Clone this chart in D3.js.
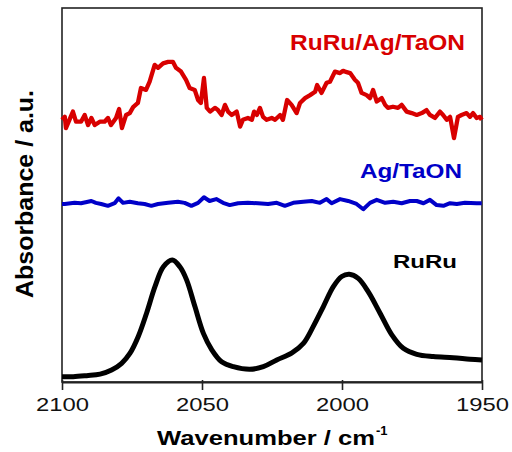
<html>
<head>
    <style>
        body { margin: 0; background: #fff; }
        text { font-family: Arial, "Liberation Sans", Helvetica, sans-serif; font-weight: bold; }
    </style>
</head>
<body>
    <svg id="chart"></svg>
</body>
<script src="https://cdn.jsdelivr.net/npm/d3@7"></script>
<script>
    // wavenumber (cm-1) and absorbance (a.u., offset per trace)
    let xTicks = [2100, 2050, 2000, 1950]

    let ruruAgWn = [2100, 2099.0, 2098.6, 2096.1, 2095.0, 2093.2, 2091.9, 2090.7, 2089.5, 2088.3, 2086.5, 2084.8, 2083.6, 2082.5, 2080.7, 2079.6, 2078.6, 2077.1, 2075.8, 2074.6, 2072.9, 2071.8, 2070.0, 2068.7, 2066.9, 2065.7, 2063.9, 2062.1, 2060.4, 2059.3, 2057.5, 2055.7, 2054.4, 2052.6, 2051.4, 2050.4, 2049.3, 2048.3, 2047.1, 2045.4, 2044.3, 2043.0, 2041.8, 2040.7, 2039.4, 2037.6, 2036.4, 2035.4, 2033.6, 2032.2, 2031.4, 2030.4, 2029.3, 2028.2, 2026.9, 2025.1, 2023.9, 2022.1, 2021.1, 2019.6, 2018.0, 2016.2, 2015.0, 2013.2, 2011.4, 2009.6, 2008.9, 2007.3, 2005.5, 2004.3, 2002.5, 2000.7, 1999.6, 1998.9, 1997.1, 1995.4, 1994.3, 1993.0, 1991.2, 1990.0, 1988.9, 1987.6, 1985.8, 1984.6, 1983.6, 1981.8, 1980.0, 1978.7, 1976.9, 1975.1, 1973.3, 1971.5, 1969.8, 1968.6, 1966.8, 1965.0, 1963.9, 1962.6, 1961.4, 1960.0, 1958.6, 1957.3, 1955.5, 1954.3, 1953.2, 1951.9, 1950.7, 1950.1]
    let ruruAgAbs = [7.01, 7.09, 6.79, 7.23, 6.96, 6.96, 7.14, 6.87, 7.06, 6.87, 6.96, 6.96, 7.06, 6.87, 7.06, 7.30, 6.79, 7.14, 7.19, 7.35, 7.46, 7.86, 7.81, 8.03, 8.48, 8.40, 8.52, 8.56, 8.56, 8.40, 8.30, 8.08, 7.86, 7.81, 7.54, 7.46, 8.13, 7.33, 7.23, 7.33, 7.27, 7.14, 7.41, 7.23, 7.14, 7.23, 6.83, 7.01, 7.06, 7.01, 7.23, 7.14, 7.33, 7.09, 7.01, 7.06, 7.01, 7.14, 7.01, 7.54, 7.41, 7.19, 7.46, 7.59, 7.67, 7.76, 7.94, 7.73, 8.00, 8.03, 8.30, 8.26, 8.32, 8.30, 8.26, 8.08, 8.00, 7.73, 7.67, 7.59, 7.81, 7.50, 7.59, 7.41, 7.33, 7.36, 7.33, 7.41, 7.23, 7.19, 7.14, 7.19, 7.27, 7.14, 7.06, 7.23, 7.14, 7.01, 7.09, 6.52, 7.09, 7.14, 7.19, 7.09, 7.19, 7.06, 7.09, 7.01]

    let agWn = [2100, 2099.0, 2095.5, 2093.2, 2089.5, 2087.9, 2086.0, 2083.6, 2081.2, 2079.8, 2078.2, 2075.8, 2072.9, 2070.5, 2068.1, 2065.7, 2062.1, 2058.6, 2056.2, 2053.8, 2051.4, 2049.3, 2047.3, 2044.9, 2042.5, 2040.1, 2037.1, 2033.6, 2030.0, 2026.4, 2023.3, 2020.4, 2017.4, 2013.8, 2010.8, 2007.9, 2005.5, 2003.7, 2000.7, 1997.8, 1994.8, 1992.4, 1990.0, 1987.6, 1984.6, 1981.7, 1978.7, 1975.7, 1973.3, 1970.9, 1968.6, 1966.2, 1963.8, 1961.4, 1959.0, 1956.1, 1951.9, 1950.1]
    let agAbs = [4.76, 4.76, 4.79, 4.78, 4.84, 4.79, 4.76, 4.71, 4.78, 4.91, 4.79, 4.82, 4.78, 4.76, 4.71, 4.76, 4.79, 4.82, 4.79, 4.71, 4.79, 4.94, 4.84, 4.89, 4.79, 4.73, 4.78, 4.79, 4.78, 4.76, 4.79, 4.71, 4.79, 4.82, 4.84, 4.79, 4.89, 4.78, 4.89, 4.84, 4.76, 4.62, 4.79, 4.87, 4.79, 4.82, 4.78, 4.84, 4.84, 4.78, 4.87, 4.73, 4.71, 4.78, 4.76, 4.79, 4.78, 4.78]

    let ruruWn = [2100, 2096.0, 2091.2, 2086.4, 2082.3, 2078.7, 2075.7, 2072.8, 2069.8, 2066.8, 2063.8, 2060.6, 2057.9, 2055.5, 2052.5, 2049.5, 2046.5, 2043.0, 2038.8, 2032.9, 2028.1, 2023.3, 2018.0, 2013.8, 2010.3, 2006.7, 2003.1, 2000.1, 1997.4, 1994.2, 1990.6, 1986.4, 1982.2, 1978.1, 1973.3, 1967.4, 1960.3, 1954.3, 1950.0]
    let ruruAbs = [0.14, 0.14, 0.17, 0.21, 0.32, 0.50, 0.77, 1.21, 1.84, 2.55, 3.08, 3.26, 3.08, 2.73, 2.01, 1.30, 0.86, 0.54, 0.41, 0.34, 0.41, 0.59, 0.77, 1.03, 1.48, 2.01, 2.55, 2.82, 2.88, 2.77, 2.41, 1.84, 1.26, 0.90, 0.74, 0.68, 0.65, 0.61, 0.59]

    let width = 512,
        height = 452,
        margin = { top: 8, right: 30, bottom: 70, left: 62 },
        plotRight = width - margin.right,
        plotBottom = height - margin.bottom

    let svg = d3.select("#chart").attr("width", width).attr("height", height)

    let x = d3.scaleLinear().domain([2100, 1950]).range([margin.left, plotRight])
    let y = d3.scaleLinear().domain([0, 10]).range([plotBottom, margin.top])

    // frame
    svg.append("rect")
        .attr("x", margin.left).attr("y", margin.top)
        .attr("width", plotRight - margin.left).attr("height", plotBottom - margin.top)
        .attr("fill", "none").attr("stroke", "#222").attr("stroke-width", 1.6)

    let xAxis = svg.append("g")
        .attr("transform", `translate(0,${plotBottom})`)
        .call(d3.axisBottom(x).tickValues(xTicks).tickFormat(d3.format("d")).tickSize(8).tickSizeOuter(0).tickPadding(4))
    xAxis.select(".domain").attr("stroke", "#222").attr("stroke-width", 2)
    xAxis.selectAll(".tick line").attr("stroke", "#222").attr("stroke-width", 1.6).attr("y1", -2)
    xAxis.selectAll(".tick text")
        .attr("fill", "#111")
        .style("font-size", "18px").style("font-weight", "normal")
        .attr("textLength", 53).attr("lengthAdjust", "spacingAndGlyphs")
        .attr("dy", "0.95em")

    let line = d3.line().x(d => x(d[0])).y(d => y(d[1]))

    let traces = [
        { wn: ruruWn, abs: ruruAbs, color: "#000", w: 5, curve: d3.curveCatmullRom },
        { wn: agWn, abs: agAbs, color: "#0000c8", w: 4, curve: d3.curveLinear },
        { wn: ruruAgWn, abs: ruruAgAbs, color: "#d80000", w: 4.3, curve: d3.curveLinear }
    ]

    traces.forEach(t => {
        svg.append("path")
            .datum(t.wn.map((w, i) => [w, t.abs[i]]))
            .attr("fill", "none")
            .attr("stroke", t.color)
            .attr("stroke-width", t.w)
            .attr("stroke-linejoin", "round")
            .attr("d", line.curve(t.curve))
    })

    // trace labels
    let labels = [
        { text: "RuRu/Ag/TaON", color: "#d80000", x: 290, y: 50, size: 22, len: 175 },
        { text: "Ag/TaON", color: "#0000c8", x: 360, y: 178, size: 20, len: 102 },
        { text: "RuRu", color: "#000", x: 393, y: 268, size: 19, len: 64 }
    ]
    svg.selectAll(".label").data(labels).enter().append("text")
        .attr("class", "label")
        .attr("x", d => d.x).attr("y", d => d.y)
        .attr("fill", d => d.color)
        .style("font-size", d => d.size + "px")
        .attr("textLength", d => d.len).attr("lengthAdjust", "spacingAndGlyphs")
        .text(d => d.text)

    // axis titles
    svg.append("text")
        .attr("x", 157).attr("y", 445)
        .style("font-size", "21px")
        .attr("textLength", 218).attr("lengthAdjust", "spacingAndGlyphs")
        .text("Wavenumber / cm")
    svg.append("text")
        .attr("x", 376).attr("y", 435)
        .style("font-size", "13px")
        .text("-1")

    svg.append("text")
        .attr("transform", "translate(33,194) rotate(-90)")
        .attr("text-anchor", "middle")
        .style("font-size", "24px")
        .attr("textLength", 208).attr("lengthAdjust", "spacingAndGlyphs")
        .text("Absorbance / a.u.")
</script>
</html>
